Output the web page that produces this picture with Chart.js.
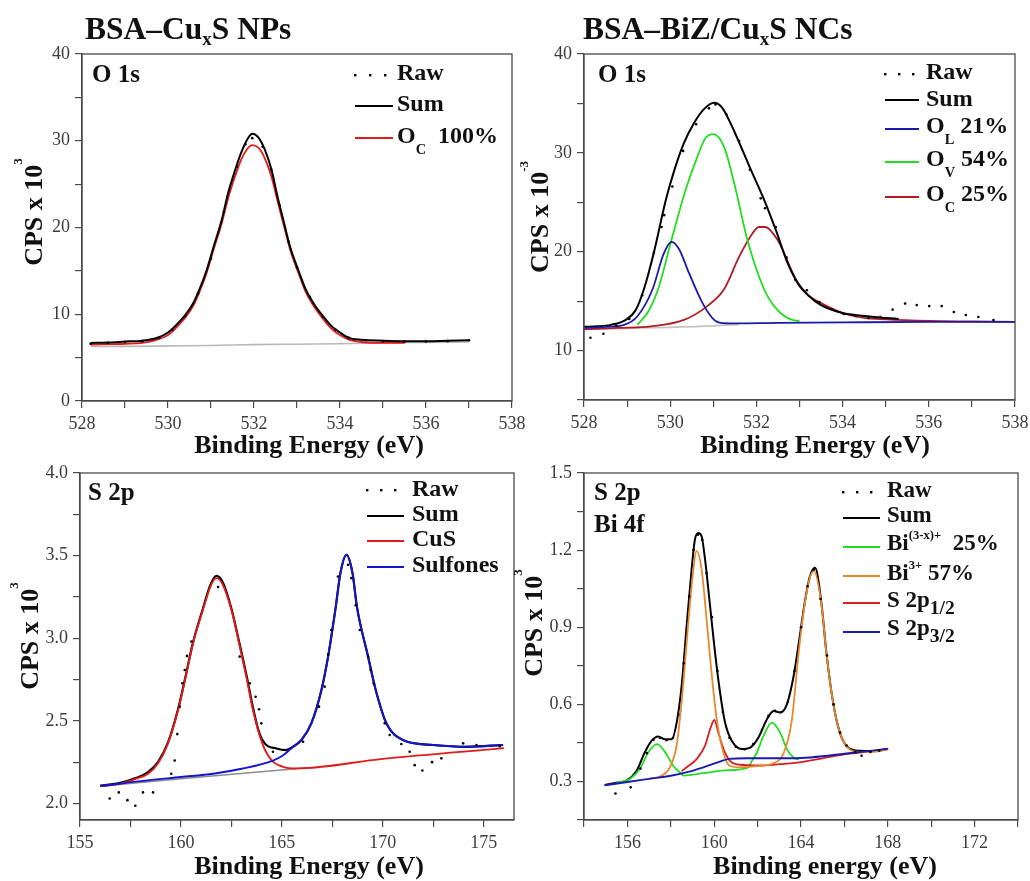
<!DOCTYPE html>
<html><head><meta charset="utf-8">
<script src="https://cdn.jsdelivr.net/npm/chart.js@4.4.1/dist/chart.umd.min.js"></script>
<style>
html,body{margin:0;padding:0;background:#fff;}
#wrap{position:relative;width:1030px;height:881px;overflow:hidden;background:#fff;}
canvas{position:absolute;left:0;top:0;}
</style></head><body><div id="wrap">
<canvas id="c1" width="1030" height="881"></canvas>
<canvas id="c2" width="1030" height="881"></canvas>
<canvas id="c3" width="1030" height="881"></canvas>
<canvas id="c4" width="1030" height="881"></canvas>
</div>
<script>
// ---------------- DATA ----------------
// Panel 1: BSA–CuxS NPs, O 1s
const p1Raw = [[528.2,6.6],[528.6,6.7],[529.0,6.8],[529.4,6.9],[529.8,7.3],[530.1,8.2],[530.4,9.8],[530.7,12.4],[531.0,16.4],[531.3,21.8],[531.6,27.0],[531.8,29.6],[531.96,30.3],[532.2,29.3],[532.4,26.7],[532.6,22.5],[532.8,18.4],[533.0,15.4],[533.3,12.0],[533.6,9.7],[533.9,8.2],[534.2,7.3],[534.6,7.0],[535.0,6.9],[535.5,6.85],[536.0,6.85],[536.5,6.9],[537.0,7.0]];
const p1Sum = [[528.2,6.7],[528.6,6.75],[529.0,6.85],[529.4,6.95],[529.74,7.26],[530.0,7.9],[530.16,8.6],[530.4,9.9],[530.59,11.3],[530.75,13.1],[530.9,15.1],[531.05,17.6],[531.25,20.9],[531.4,24.0],[531.56,26.6],[531.7,28.6],[531.85,30.2],[531.96,30.8],[532.1,30.4],[532.25,29.0],[532.41,26.6],[532.55,23.5],[532.68,20.9],[532.85,17.6],[533.03,15.1],[533.2,12.9],[533.38,11.3],[533.6,9.8],[533.81,8.6],[534.0,7.9],[534.19,7.3],[534.5,7.05],[535.0,6.95],[535.5,6.9],[536.0,6.9],[536.5,6.95],[537.0,7.0]];
const p1Oc = [[528.2,6.5],[528.6,6.55],[529.0,6.6],[529.4,6.7],[529.74,7.05],[530.0,7.6],[530.16,8.3],[530.4,9.6],[530.59,11.0],[530.75,12.8],[530.9,14.8],[531.05,17.3],[531.25,20.5],[531.4,23.4],[531.56,25.9],[531.7,27.8],[531.85,29.1],[531.96,29.5],[532.1,29.2],[532.25,28.0],[532.41,25.8],[532.55,23.0],[532.68,20.5],[532.85,17.3],[533.03,14.8],[533.2,12.6],[533.38,11.0],[533.6,9.5],[533.81,8.3],[534.0,7.6],[534.19,7.1],[534.5,6.8],[535.0,6.7],[535.5,6.7]];
const p1Bg = [[528.2,6.3],[529,6.3],[530,6.35],[531,6.4],[532,6.5],[533,6.55],[534,6.6],[535,6.7],[536,6.75],[537,6.8]];
const p1XTicks = [528,529,530,531,532,533,534,535,536,537,538];
const p1XLabels = [528,530,532,534,536,538];
const p1YTicks = [0,5,10,15,20,25,30,35,40];
const p1YLabels = [0,10,20,30,40];

// Panel 2: BSA–BiZ/CuxS NCs, O 1s
const p2Raw = [[528.15,11.3],[528.45,11.7],[528.75,12.5],[529.05,13.2],[529.35,15.6],[529.62,19.9],[529.8,22.5],[529.86,23.7],[530.05,26.6],[530.3,30.2],[530.6,32.9],[530.9,34.5],[531.05,34.9],[531.3,33.9],[531.6,31.2],[531.85,28.3],[532.1,25.4],[532.2,24.4],[532.45,22.5],[532.7,19.4],[532.9,17.2],[533.17,16.1],[533.46,14.9],[533.75,14.2],[534.02,13.7],[534.3,13.5],[534.6,13.3],[534.87,13.4],[535.16,14.14],[535.45,14.75],[535.72,14.6],[536.01,14.5],[536.3,14.5],[536.58,13.9],[536.86,13.6],[537.15,13.4],[537.5,13.1]];
const p2Sum = [[528.0,12.4],[528.3,12.45],[528.62,12.6],[528.97,13.1],[529.2,14.1],[529.39,16.2],[529.62,19.9],[529.9,25.25],[530.1,28.3],[530.32,31.0],[530.55,33.0],[530.8,34.5],[531.02,35.08],[531.2,34.6],[531.4,33.0],[531.87,28.3],[532.18,25.25],[532.45,22.2],[532.72,18.9],[532.95,16.9],[533.2,15.6],[533.5,14.6],[534.0,13.8],[534.5,13.5],[535.0,13.3],[535.3,13.2]];
const p2Ol = [[528.0,12.3],[528.5,12.4],[528.93,12.6],[529.24,13.47],[529.59,16.2],[529.85,19.8],[530.03,21.0],[530.2,20.3],[530.44,17.8],[530.75,14.8],[531.02,13.1],[531.17,12.8],[531.5,12.75],[532.5,12.8],[534,12.85],[536,12.9],[538,12.9]];
const p2Ov = [[529.24,12.6],[529.5,14.0],[529.72,16.2],[530.03,21.2],[530.36,26.3],[530.63,29.6],[530.82,31.5],[531.0,31.9],[531.25,30.6],[531.52,26.3],[531.79,21.2],[532.18,16.2],[532.49,14.1],[532.83,13.1],[533.0,13.0]];
const p2Oc = [[528.0,12.15],[528.8,12.3],[529.55,12.45],[530.32,13.1],[530.86,14.5],[531.25,16.2],[531.6,19.5],[531.9,21.8],[532.06,22.5],[532.2,22.5],[532.49,21.2],[532.87,17.6],[533.0,16.5],[533.2,15.6],[533.5,14.8],[534.0,13.8],[534.5,13.3],[535.0,13.15],[536.0,13.0],[537.0,12.95],[538,12.9]];
const p2Bg = [[528,12.15],[529,12.25],[530,12.35],[531,12.5],[531.6,12.65]];
const p2XTicks = [528,529,530,531,532,533,534,535,536,537,538];
const p2XLabels = [528,530,532,534,536,538];
const p2YTicks = [5,10,15,20,25,30,35,40];
const p2YLabels = [10,20,30,40];

// Panel 3: BSA–CuxS NPs, S 2p
const p3Raw = [[156.47,2.03],[156.92,2.067],[157.35,2.02],[157.74,1.986],[158.12,2.067],[158.62,2.067],[159.52,2.18],[159.69,2.26],[159.82,2.42],[159.94,2.586],[160.07,2.727],[160.19,2.808],[160.3,2.893],[160.52,2.98],[161.84,3.31],[162.91,2.889],[163.41,2.727],[163.7,2.646],[163.87,2.57],[163.98,2.485],[164.56,2.313],[166.05,2.374],[166.84,2.586],[167.12,2.707],[167.29,2.9],[167.45,3.05],[167.78,3.374],[168.28,3.444],[168.44,3.364],[168.66,3.2],[168.86,3.05],[169.27,2.889],[169.4,2.808],[169.55,2.727],[170.1,2.485],[170.34,2.414],[170.92,2.36],[171.33,2.313],[171.58,2.232],[171.96,2.2],[172.44,2.25],[172.9,2.273],[173.98,2.364],[174.64,2.354],[175.79,2.347]];
const p3Sum = [[156.0,2.108],[157.0,2.125],[157.79,2.155],[158.37,2.19],[158.86,2.25],[159.36,2.37],[159.86,2.572],[160.24,2.775],[160.6,2.975],[161.09,3.18],[161.45,3.32],[161.75,3.378],[162.05,3.345],[162.5,3.18],[162.88,2.98],[163.24,2.78],[163.57,2.58],[163.85,2.44],[164.15,2.364],[164.73,2.333],[165.2,2.323],[165.55,2.343],[165.97,2.384],[166.46,2.485],[166.96,2.687],[167.29,2.889],[167.67,3.19],[167.9,3.394],[168.2,3.505],[168.5,3.394],[168.72,3.19],[169.27,2.889],[169.65,2.687],[170.18,2.485],[171.0,2.384],[172.49,2.354],[174.14,2.343],[175.96,2.354]];
const p3CuS = [[156.0,2.105],[157.0,2.12],[157.79,2.15],[158.37,2.18],[158.86,2.242],[159.36,2.364],[159.86,2.566],[160.24,2.768],[160.6,2.97],[161.09,3.172],[161.45,3.31],[161.75,3.364],[162.05,3.33],[162.5,3.172],[162.88,2.97],[163.24,2.768],[163.57,2.566],[164.03,2.364],[164.48,2.263],[165.06,2.222],[165.72,2.212],[170,2.27],[176,2.335]];
const p3Sulf = [[156.0,2.105],[158,2.135],[160,2.16],[161.6,2.18],[163,2.21],[164.56,2.26],[165.05,2.29],[165.55,2.343],[165.97,2.384],[166.46,2.485],[166.96,2.687],[167.29,2.889],[167.67,3.19],[167.9,3.394],[168.2,3.505],[168.5,3.394],[168.72,3.19],[169.27,2.889],[169.65,2.687],[170.18,2.485],[171.0,2.384],[172.49,2.354],[174.14,2.343],[175.96,2.354]];
const p3Bg = [[156,2.105],[160,2.15],[165.7,2.21]];
const p3XTicks = [155,157.5,160,162.5,165,167.5,170,172.5,175];
const p3XLabels = [155,160,165,170,175];
const p3YTicks = [2.0,2.25,2.5,2.75,3.0,3.25,3.5,3.75,4.0];
const p3YLabels = [2.0,2.5,3.0,3.5,4.0];

// Panel 4: BSA–BiZ/CuxS NCs, S 2p / Bi 4f
const p4Raw = [[155.45,0.253],[156.15,0.277],[156.6,0.35],[156.9,0.41],[157.2,0.462],[157.5,0.47],[157.8,0.46],[158.1,0.47],[158.35,0.56],[158.6,0.76],[158.85,1.02],[159.05,1.2],[159.25,1.26],[159.45,1.24],[159.65,1.11],[159.9,0.94],[160.15,0.73],[160.4,0.57],[160.7,0.47],[161.0,0.435],[161.4,0.425],[161.8,0.445],[162.2,0.5],[162.5,0.555],[162.8,0.575],[163.1,0.57],[163.4,0.61],[163.7,0.73],[164.0,0.9],[164.3,1.06],[164.6,1.125],[164.9,1.01],[165.2,0.79],[165.5,0.6],[165.8,0.49],[166.1,0.44],[166.5,0.415],[166.79,0.4],[167.2,0.415],[167.6,0.42]];
const p4Sum = [[154.95,0.286],[155.5,0.295],[155.95,0.303],[156.42,0.341],[156.8,0.413],[157.11,0.458],[157.42,0.475],[157.73,0.464],[158.04,0.464],[158.27,0.529],[158.5,0.672],[158.73,0.905],[158.96,1.125],[159.11,1.241],[159.27,1.267],[159.42,1.254],[159.58,1.163],[159.81,0.982],[160.04,0.8],[160.27,0.646],[160.5,0.529],[160.81,0.458],[161.27,0.426],[161.66,0.432],[162.04,0.471],[162.43,0.542],[162.74,0.574],[163.04,0.568],[163.35,0.6],[163.66,0.71],[163.9,0.84],[164.17,0.995],[164.4,1.095],[164.65,1.131],[164.94,0.995],[165.17,0.801],[165.48,0.607],[165.79,0.49],[166.17,0.432],[166.71,0.419],[167.3,0.418],[168.02,0.426]];
const p4BiX = [[155.5,0.295],[156.11,0.309],[156.57,0.348],[156.96,0.413],[157.37,0.445],[157.8,0.406],[158.11,0.361],[158.42,0.335],[158.6,0.323],[159.5,0.332],[160.5,0.343],[161.55,0.354],[161.74,0.38],[161.97,0.413],[162.27,0.477],[162.66,0.529],[163.04,0.49],[163.35,0.426],[163.66,0.393],[163.9,0.385]];
const p4Bi3 = [[157.0,0.31],[157.57,0.322],[157.99,0.36],[158.27,0.44],[158.5,0.61],[158.73,0.84],[158.96,1.06],[159.19,1.196],[159.42,1.125],[159.65,0.93],[159.88,0.72],[160.12,0.54],[160.43,0.41],[160.73,0.36],[161.2,0.355],[162.0,0.36],[162.7,0.37],[163.2,0.41],[163.58,0.54],[163.89,0.8],[164.17,0.99],[164.4,1.09],[164.6,1.118],[164.94,0.99],[165.17,0.8],[165.48,0.607],[165.79,0.49],[166.17,0.43],[166.7,0.415],[167.3,0.415],[168.0,0.425]];
const p4S12 = [[158.5,0.34],[158.73,0.355],[159.19,0.387],[159.58,0.439],[159.81,0.503],[160.01,0.539],[160.19,0.49],[160.43,0.426],[160.73,0.38],[161.2,0.365],[162.0,0.362],[163.0,0.367],[164.0,0.375],[165.0,0.39],[166.0,0.405],[167.0,0.415],[168.0,0.427]];
const p4S32 = [[154.95,0.285],[156.0,0.298],[157.0,0.31],[158.0,0.322],[158.8,0.337],[159.5,0.355],[160.2,0.375],[160.7,0.388],[161.5,0.39],[162.5,0.39],[163.5,0.39],[164.0,0.391],[165.0,0.398],[166.0,0.408],[167.0,0.417],[168.0,0.427]];
const p4XTicks = [154,156,158,160,162,164,166,168,170,172,174];
const p4XLabels = [156,160,164,168,172];
const p4YTicks = [0.15,0.3,0.45,0.6,0.75,0.9,1.05,1.2,1.35,1.5];
const p4YLabels = [0.3,0.6,0.9,1.2,1.5];

// ---------------- TEXT ----------------
const p1Title = [['BSA–Cu'],['x','tsub'],['S NPs']];
const p2Title = [['BSA–BiZ/Cu'],['x','tsub'],['S NCs']];
const xTitleE = [['Binding Energy (eV)']];
const xTitleLower = [['Binding energy (eV)']];
const yTitlePos = [['CPS x 10'],['3','asup']];
const yTitleNeg = [['CPS x 10'],['-3','asup']];
const p1Legend = [[['Raw']],[['Sum']],[['O'],['C','sub'],['  100%']]];
const p2Legend = [[['Raw']],[['Sum']],[['O'],['L','sub'],[' 21%']],[['O'],['V','sub'],[' 54%']],[['O'],['C','sub'],[' 25%']]];
const p3Legend = [[['Raw']],[['Sum']],[['CuS']],[['Sulfones']]];
const p4Legend = [[['Raw']],[['Sum']],[['Bi'],['(3-x)+','sup'],['  25%']],[['Bi'],['3+','sup'],[' 57%']],[['S 2p'],['1/2','isub']],[['S 2p'],['3/2','isub']]];

// ---------------- DRAWING ----------------
const FONT = '"Liberation Serif","Times New Roman",serif';
const KINDS = {
  sub:{s:0.6,dy:0.44}, tsub:{s:0.6,dy:0.2}, sup:{s:0.55,dy:-0.5},
  asup:{s:0.5,dy:-0.77}, isub:{s:0.85,dy:0.3}
};
function drawRich(ctx, segs, x, y, base, align){
  const items = segs.map(sg => {
    const k = KINDS[sg[1]];
    const size = k ? base*k.s : base;
    const dy = k ? base*k.dy : 0;
    ctx.font = `bold ${size}px ${FONT}`;
    return {t:sg[0], size, dy, w:ctx.measureText(sg[0]).width};
  });
  const total = items.reduce((a,b)=>a+b.w,0);
  let cx = align === 'center' ? x - total/2 : x;
  items.forEach(it => {
    ctx.font = `bold ${it.size}px ${FONT}`;
    ctx.fillText(it.t, cx, y + it.dy);
    cx += it.w;
  });
}
const deco = {
  id:'deco',
  afterDraw(chart, args, o){
    const ctx = chart.ctx, a = chart.chartArea;
    ctx.save();
    ctx.strokeStyle = '#4a4a4a'; ctx.lineWidth = 1.3;
    ctx.strokeRect(a.left, a.top, a.right - a.left, a.bottom - a.top);
    ctx.textBaseline = 'alphabetic'; ctx.textAlign = 'left';
    ctx.fillStyle = '#111';
    if (o.title) drawRich(ctx, o.title.segs, o.title.x, o.title.y, o.title.size, 'left');
    drawRich(ctx, o.xTitle.segs, o.xTitle.cx, o.xTitle.y, o.xTitle.size, 'center');
    ctx.save();
    ctx.translate(o.yTitle.x, o.yTitle.cy); ctx.rotate(-Math.PI/2);
    drawRich(ctx, o.yTitle.segs, 0, 0, o.yTitle.size, 'center');
    ctx.restore();
    o.inner.forEach(l => drawRich(ctx, l.segs, l.x, l.y, l.size, 'left'));
    const L = o.legend;
    L.rows.forEach((r, i) => {
      const ds = chart.data.datasets[r.ds];
      if (r.dots) {
        ctx.fillStyle = '#000';
        for (let k = 0; k < 3; k++) ctx.fillRect(L.x0 + k*L.dotGap - 1, r.ly - 1, 2.4, 2.4);
      } else {
        ctx.strokeStyle = ds.borderColor; ctx.lineWidth = 2.2;
        ctx.beginPath(); ctx.moveTo(L.x0, r.ly); ctx.lineTo(L.x1, r.ly); ctx.stroke();
      }
      ctx.fillStyle = '#111';
      drawRich(ctx, L.texts[i], L.tx, r.ty, L.size, 'left');
    });
    ctx.restore();
  }
};

const pts = arr => arr.map(p => ({x:p[0], y:p[1]}));
function lineDS(arr, color, w){
  return {data:pts(arr), borderColor:color, backgroundColor:color, borderWidth:w||1.6,
    pointRadius:0, fill:false, cubicInterpolationMode:'monotone', showLine:true};
}
function rawDS(arr){
  return {data:pts(arr), showLine:false, pointRadius:1.3, pointBorderWidth:0,
    pointBackgroundColor:'#000', borderColor:'#000', backgroundColor:'#000'};
}
const has = (list, v) => list.some(q => Math.abs(q - v) < 1e-6);
function axis(min, max, ticks, labels, dec, isX, size){
  return {
    type:'linear', min, max,
    afterBuildTicks: s => { s.ticks = ticks.map(v => ({value:v})); },
    afterFit: s => {
      if (isX) s.height = size; else s.width = size;
      s.paddingLeft = 0; s.paddingRight = 0; s.paddingTop = 0; s.paddingBottom = 0;
    },
    ticks:{
      autoSkip:false, maxRotation:0, minRotation:0, padding:5,
      color:'#3c3c3c', font:{family:FONT, size:18},
      callback: v => has(labels, v) ? v.toFixed(dec) : ''
    },
    grid:{display:true, drawOnChartArea:false, drawTicks:true, tickLength:7, color:'#4a4a4a', lineWidth:1.2},
    border:{display:true, color:'#4a4a4a', width:1.3}
  };
}
function make(id, area, datasets, xs, ys, decoOpts){
  const YW = 70, XH = 40;
  new Chart(document.getElementById(id), {
    type:'line',
    data:{datasets},
    options:{
      responsive:false, animation:false, events:[],
      layout:{padding:{left:area[0]-YW, top:area[1], right:1030-area[2], bottom:881-area[3]-XH}},
      plugins:{legend:{display:false}, tooltip:{enabled:false}, title:{display:false}, deco:decoOpts},
      scales:{
        x: axis(xs[0], xs[1], xs[2], xs[3], xs[4], true, XH),
        y: axis(ys[0], ys[1], ys[2], ys[3], ys[4], false, YW)
      }
    },
    plugins:[deco]
  });
}

// Panel 1
make('c1', [82,54,512,401],
  [rawDS(p1Raw), lineDS(p1Sum,'#000000',2.0), lineDS(p1Oc,'#e01b1b',1.8), lineDS(p1Bg,'#b8b8b8',1.6)],
  [528,538,p1XTicks,p1XLabels,0], [0,40,p1YTicks,p1YLabels,0],
  {title:{segs:p1Title,x:85,y:39,size:31.5},
   xTitle:{segs:xTitleE,cx:309,y:453,size:26},
   yTitle:{segs:yTitlePos,x:42,cy:212,size:26},
   inner:[{segs:[['O 1s']],x:92,y:82,size:25}],
   legend:{x0:355,x1:393,tx:397,dotGap:15,size:24,texts:p1Legend,
     rows:[{ds:0,dots:true,ly:75,ty:80},{ds:1,ly:106,ty:111},{ds:2,ly:138,ty:143}]}});

// Panel 2
make('c2', [584,54,1015,400],
  [rawDS(p2Raw), lineDS(p2Ol,'#1a1aa8',1.8), lineDS(p2Sum,'#000000',2.0), lineDS(p2Ov,'#22dd22',1.8), lineDS(p2Oc,'#b01c24',1.8), lineDS(p2Bg,'#c4c4c4',1.6)],
  [528,538,p2XTicks,p2XLabels,0], [5,40,p2YTicks,p2YLabels,0],
  {title:{segs:p2Title,x:583,y:39,size:31.5},
   xTitle:{segs:xTitleE,cx:815,y:453,size:26},
   yTitle:{segs:yTitleNeg,x:548,cy:217,size:26},
   inner:[{segs:[['O 1s']],x:598,y:82,size:25}],
   legend:{x0:885,x1:919,tx:926,dotGap:14,size:24,texts:p2Legend,
     rows:[{ds:0,dots:true,ly:74,ty:79},{ds:2,ly:100,ty:106},{ds:1,ly:129,ty:133},{ds:3,ly:162,ty:166},{ds:4,ly:197,ty:201}]}});

// Panel 3 (components drawn above the sum)
make('c3', [80,473,514,820],
  [rawDS(p3Raw), lineDS(p3Sulf,'#1515d0',1.9), lineDS(p3CuS,'#e01b1b',1.9), lineDS(p3Sum,'#000000',2.2), lineDS(p3Bg,'#8c8c8c',1.6)],
  [155,176.5,p3XTicks,p3XLabels,0], [1.9,4.0,p3YTicks,p3YLabels,1],
  {xTitle:{segs:xTitleE,cx:309,y:874,size:26},
   yTitle:{segs:yTitlePos,x:38,cy:636,size:26},
   inner:[{segs:[['S 2p']],x:88,y:500,size:25}],
   legend:{x0:367,x1:404,tx:412,dotGap:14,size:24,texts:p3Legend,
     rows:[{ds:0,dots:true,ly:490,ty:496},{ds:3,ly:516,ty:521},{ds:2,ly:541,ty:546},{ds:1,ly:567,ty:572}]}});

// Panel 4 (components drawn above the sum)
make('c4', [584,473,1018,820],
  [rawDS(p4Raw), lineDS(p4S32,'#1a1ab0',1.9), lineDS(p4Bi3,'#e8892f',1.8), lineDS(p4S12,'#d42020',1.8), lineDS(p4BiX,'#22dd22',1.8), lineDS(p4Sum,'#000000',2.0)],
  [154,174,p4XTicks,p4XLabels,0], [0.15,1.5,p4YTicks,p4YLabels,1],
  {xTitle:{segs:xTitleLower,cx:825,y:874,size:26},
   yTitle:{segs:yTitlePos,x:542,cy:623,size:26},
   inner:[{segs:[['S 2p']],x:594,y:500,size:25},{segs:[['Bi 4f']],x:594,y:532,size:25}],
   legend:{x0:843,x1:880,tx:887,dotGap:14,size:23,texts:p4Legend,
     rows:[{ds:0,dots:true,ly:492,ty:497},{ds:5,ly:518,ty:522},{ds:4,ly:547,ty:550},{ds:2,ly:576,ty:580},{ds:3,ly:603,ty:607},{ds:1,ly:632,ty:635}]}});
</script>
</body></html>
